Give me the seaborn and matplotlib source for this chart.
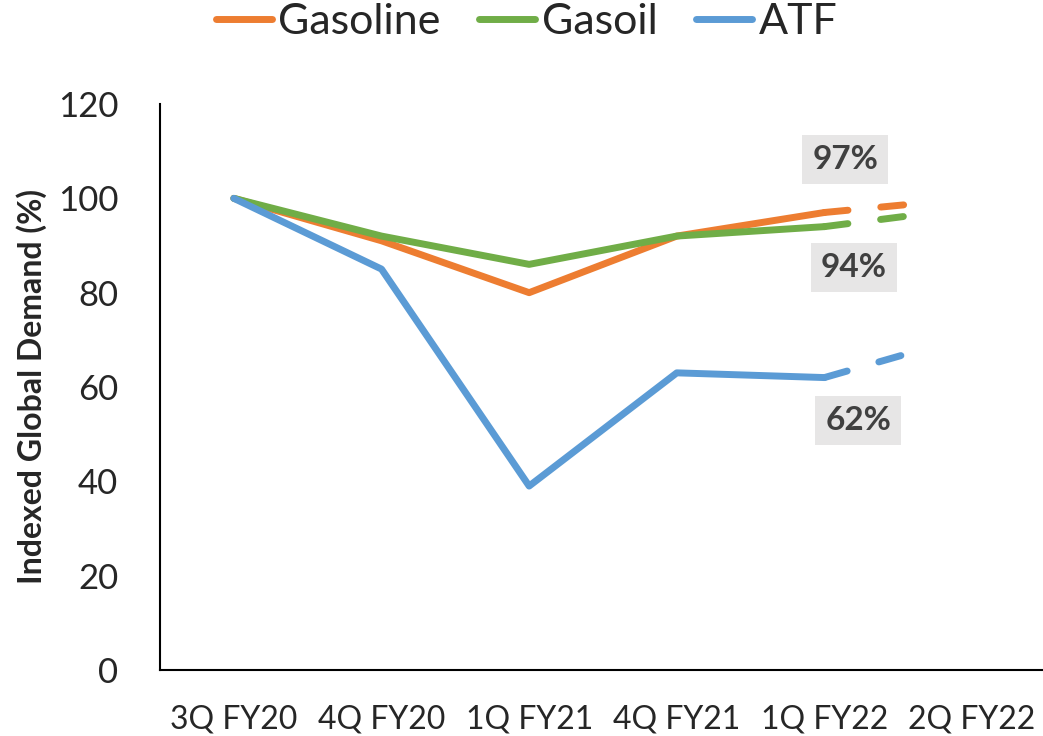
import matplotlib
matplotlib.use('Agg')
import matplotlib.pyplot as plt
from matplotlib.lines import Line2D
import pandas as pd
import seaborn as sns

# data
quarters = ['3Q FY20', '4Q FY20', '1Q FY21', '4Q FY21', '1Q FY22', '2Q FY22']
gasoline = [100, 91, 80, 92, 97, 100]
gasoil = [100, 92, 86, 92, 94, 98]
atf = [100, 85, 39, 63, 62, 71]
series_names = ['Gasoline', 'Gasoil', 'ATF']
colors = ['#ED7D31', '#70AD47', '#5B9BD5']
n_actual = 5  # last quarter is a projection, drawn dashed

sns.set_theme(style='white')
plt.rcParams['font.family'] = ['Lato', 'DejaVu Sans']

df = pd.DataFrame({'quarter': quarters, 'Gasoline': gasoline,
                   'Gasoil': gasoil, 'ATF': atf})
df['x'] = range(len(quarters))
long = df.melt(id_vars=['quarter', 'x'], var_name='fuel', value_name='demand')
actual = long[long['x'] < n_actual]
projected = long[long['x'] >= n_actual - 1]
palette = dict(zip(series_names, colors))

fig = plt.figure(figsize=(10.43, 7.36), dpi=100)
ax = fig.add_axes([160 / 1043, 66 / 736, 883 / 1043, 566 / 736])

sns.lineplot(data=actual, x='x', y='demand', hue='fuel', hue_order=series_names,
             palette=palette, linewidth=5, solid_capstyle='round',
             legend=False, ax=ax)
sns.lineplot(data=projected, x='x', y='demand', hue='fuel', hue_order=series_names,
             palette=palette, linewidth=5, dash_capstyle='round',
             linestyle=(0, (3.4, 4.75, 3.3, 30)), legend=False, ax=ax)

# value labels for the latest actual quarter
label_dx = [0.14, 0.20, 0.23]
label_dy = [11.3, -8.6, -9.2]
for vals, dx, dy in zip([gasoline, gasoil, atf], label_dx, label_dy):
    v = vals[n_actual - 1]
    ax.text(n_actual - 1 + dx, v + dy, f'{v}%', ha='center', va='center',
            fontsize=24, fontweight='bold', color='#404040',
            bbox=dict(boxstyle='square,pad=0.3', fc='#E7E6E6', ec='none'))

ax.set_xlim(-0.5, 5.48)
ax.set_ylim(0, 120)
ax.set_xticks(range(len(quarters)))
ax.set_xticklabels(quarters, fontsize=23)
ax.set_yticks(range(0, 121, 20))
ax.tick_params(axis='y', labelsize=25, length=0, pad=30)
ax.tick_params(axis='x', length=0, pad=25)
ax.set_xlabel('')
ax.set_ylabel('Indexed Global Demand (%)', fontsize=23, fontweight='bold',
              labelpad=8)

sns.despine(ax=ax)
for side in ['left', 'bottom']:
    ax.spines[side].set_color('black')
    ax.spines[side].set_linewidth(1.5)

handles = [Line2D([0], [0], color=c, lw=5, solid_capstyle='round') for c in colors]
fig.legend(handles, series_names, loc='center', bbox_to_anchor=(0.505, 0.97),
           ncol=3, frameon=False, fontsize=31, handlelength=1.3,
           handletextpad=0.15, columnspacing=0.9)

fig.savefig('out.png', dpi=100)
